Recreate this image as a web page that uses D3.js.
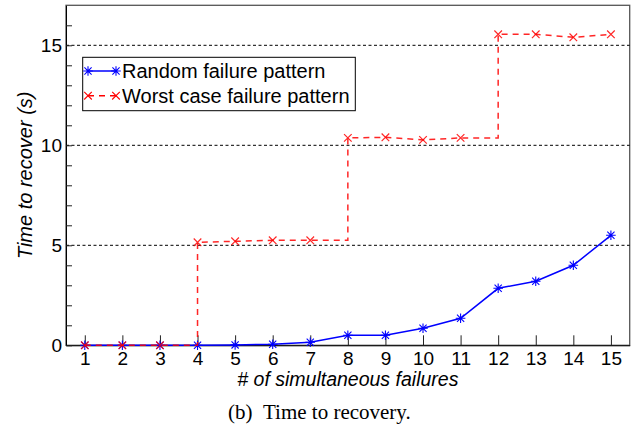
<!DOCTYPE html>
<html>
<head>
<meta charset="utf-8">
<script src="https://cdn.jsdelivr.net/npm/d3@7"></script>
<style>
  body { margin: 0; background: #fff; }
  text { font-family: "Liberation Sans", Arial, Helvetica, sans-serif; fill: #000; }
</style>
</head>
<body>
<div id="chart"></div>
<script>
// data
var failures = [1, 2, 3, 4, 5, 6, 7, 8, 9, 10, 11, 12, 13, 14, 15];
var randomTimes = [0, 0, 0, 0, 0.02, 0.05, 0.15, 0.5, 0.5, 0.85, 1.35, 2.85, 3.2, 4.0, 5.5];
var worstTimes = [0, 0, 0, 5.15, 5.2, 5.25, 5.25, 10.37, 10.4, 10.27, 10.37, 15.55, 15.55, 15.4, 15.55];
var yTickValues = [0, 1, 2, 3, 4, 5, 6, 7, 8, 9, 10, 11, 12, 13, 14, 15, 16];
var yTickLabels = [0, 5, 10, 15];
var gridValues = [5, 10, 15];
var seriesNames = ['Random failure pattern', 'Worst case failure pattern'];

var width = 639, height = 428;

var svg = d3.select('#chart')
  .append('svg')
  .attr('width', width)
  .attr('height', height);

var x = d3.scaleLinear().domain([0.5, 15.5]).range([66, 629.7]);
var y = d3.scaleLinear().domain([0, 17]).range([345.3, 5.3]);

// frame
svg.append('rect')
  .attr('x', x(0.5))
  .attr('y', y(17))
  .attr('width', x(15.5) - x(0.5))
  .attr('height', y(0) - y(17))
  .attr('fill', 'none')
  .attr('stroke', '#555')
  .attr('stroke-width', 1.3);

// dashed grid lines
svg.selectAll('.grid')
  .data(gridValues)
  .enter().append('line')
  .attr('class', 'grid')
  .attr('x1', x(0.5))
  .attr('x2', x(15.5))
  .attr('y1', function(d) { return y(d); })
  .attr('y2', function(d) { return y(d); })
  .attr('stroke', '#000')
  .attr('stroke-width', 1)
  .attr('stroke-dasharray', '3,2.5');

// x axis, ticks point inward
var xAxis = svg.append('g')
  .attr('transform', 'translate(0,' + y(0) + ')')
  .call(d3.axisBottom(x).tickValues(failures).tickSizeInner(-10).tickSizeOuter(0).tickPadding(6));
xAxis.selectAll('text').style('font-size', '19px').style('font-family', '"Liberation Sans", Arial, sans-serif');
xAxis.selectAll('line').attr('stroke', '#222');

// y axis
var yAxis = svg.append('g')
  .attr('transform', 'translate(' + x(0.5) + ',0)')
  .call(d3.axisLeft(y).tickValues(yTickValues).tickSizeInner(-6).tickSizeOuter(0).tickPadding(4)
    .tickFormat(function(d) { return yTickLabels.indexOf(d) >= 0 ? d : ''; }));
yAxis.selectAll('text').style('font-size', '19px').style('font-family', '"Liberation Sans", Arial, sans-serif');
yAxis.selectAll('line').attr('stroke', '#222');

// axis titles
svg.append('text')
  .attr('transform', 'translate(32,' + ((y(0) + y(17)) / 2) + ') rotate(-90)')
  .attr('text-anchor', 'middle')
  .style('font-size', '20px')
  .style('font-style', 'italic')
  .text('Time to recover (s)');

svg.append('text')
  .attr('x', (x(0.5) + x(15.5)) / 2)
  .attr('y', 385.5)
  .attr('text-anchor', 'middle')
  .style('font-size', '19.5px')
  .style('font-style', 'italic')
  .text('# of simultaneous failures');

// caption
svg.append('text')
  .attr('x', 228)
  .attr('y', 419)
  .style('font-family', '"Liberation Serif", "Times New Roman", serif')
  .style('font-size', '21px')
  .text('(b)');
svg.append('text')
  .attr('x', 263)
  .attr('y', 419)
  .style('font-family', '"Liberation Serif", "Times New Roman", serif')
  .style('font-size', '21px')
  .text('Time to recovery.');

// marker shapes
function starPath(cx, cy) {
  var r = 4.8, d = r * 0.75;
  return 'M' + (cx - r) + ',' + cy + 'L' + (cx + r) + ',' + cy +
    'M' + cx + ',' + (cy - r) + 'L' + cx + ',' + (cy + r) +
    'M' + (cx - d) + ',' + (cy - d) + 'L' + (cx + d) + ',' + (cy + d) +
    'M' + (cx - d) + ',' + (cy + d) + 'L' + (cx + d) + ',' + (cy - d);
}
function crossPath(cx, cy) {
  var r = 3.8;
  return 'M' + (cx - r) + ',' + (cy - r) + 'L' + (cx + r) + ',' + (cy + r) +
    'M' + (cx - r) + ',' + (cy + r) + 'L' + (cx + r) + ',' + (cy - r);
}

var line = d3.line()
  .x(function(d) { return x(d[0]); })
  .y(function(d) { return y(d[1]); });

// random pattern (blue)
var randomData = failures.map(function(f, i) { return [f, randomTimes[i]]; });
svg.append('path')
  .datum(randomData)
  .attr('d', line)
  .attr('fill', 'none')
  .attr('stroke', '#0000ff')
  .attr('stroke-width', 1.5);
svg.selectAll('.rmark')
  .data(randomData)
  .enter().append('path')
  .attr('class', 'rmark')
  .attr('d', function(d) { return starPath(x(d[0]), y(d[1])); })
  .attr('stroke', '#0000ff')
  .attr('stroke-width', 1.1)
  .attr('fill', 'none');

// worst case (red), steps up where the value jumps
var worstData = failures.map(function(f, i) { return [f, worstTimes[i]]; });
var worstPathData = [];
worstData.forEach(function(d, i) {
  if (i > 0 && Math.abs(d[1] - worstData[i - 1][1]) > 1) worstPathData.push([d[0], worstData[i - 1][1]]);
  worstPathData.push(d);
});
svg.append('path')
  .datum(worstPathData)
  .attr('d', line)
  .attr('fill', 'none')
  .attr('stroke', '#ff0000')
  .attr('stroke-opacity', 0.85)
  .attr('stroke-width', 1.5)
  .attr('stroke-dasharray', '6,5');
svg.selectAll('.wmark')
  .data(worstData.filter(function(d, i) { return i !== 3 || d[1] > 0; }))
  .enter().append('path')
  .attr('class', 'wmark')
  .attr('d', function(d) { return crossPath(x(d[0]), y(d[1])); })
  .attr('stroke', '#ff0000')
  .attr('stroke-opacity', 0.85)
  .attr('stroke-width', 1.2)
  .attr('fill', 'none');

// legend
var legend = svg.append('g');
legend.append('rect')
  .attr('x', 82.7)
  .attr('y', 57.3)
  .attr('width', 272.6)
  .attr('height', 53.4)
  .attr('fill', '#fff')
  .attr('stroke', '#000')
  .attr('stroke-width', 1);

var legendRows = [71, 95.7];
seriesNames.forEach(function(name, i) {
  var ly = legendRows[i];
  var color = i === 0 ? '#0000ff' : '#ff0000';
  legend.append('line')
    .attr('x1', 88).attr('x2', 116)
    .attr('y1', ly).attr('y2', ly)
    .attr('stroke', color)
    .attr('stroke-width', 1.5)
    .attr('stroke-dasharray', i === 0 ? null : '6,5');
  [88, 116].forEach(function(mx) {
    legend.append('path')
      .attr('d', i === 0 ? starPath(mx, ly) : crossPath(mx, ly))
      .attr('stroke', color)
      .attr('stroke-width', 1.1)
      .attr('fill', 'none');
  });
  legend.append('text')
    .attr('x', 122)
    .attr('y', ly)
    .attr('dy', '0.35em')
    .style('font-size', '20px')
    .text(name);
});
</script>
</body>
</html>
